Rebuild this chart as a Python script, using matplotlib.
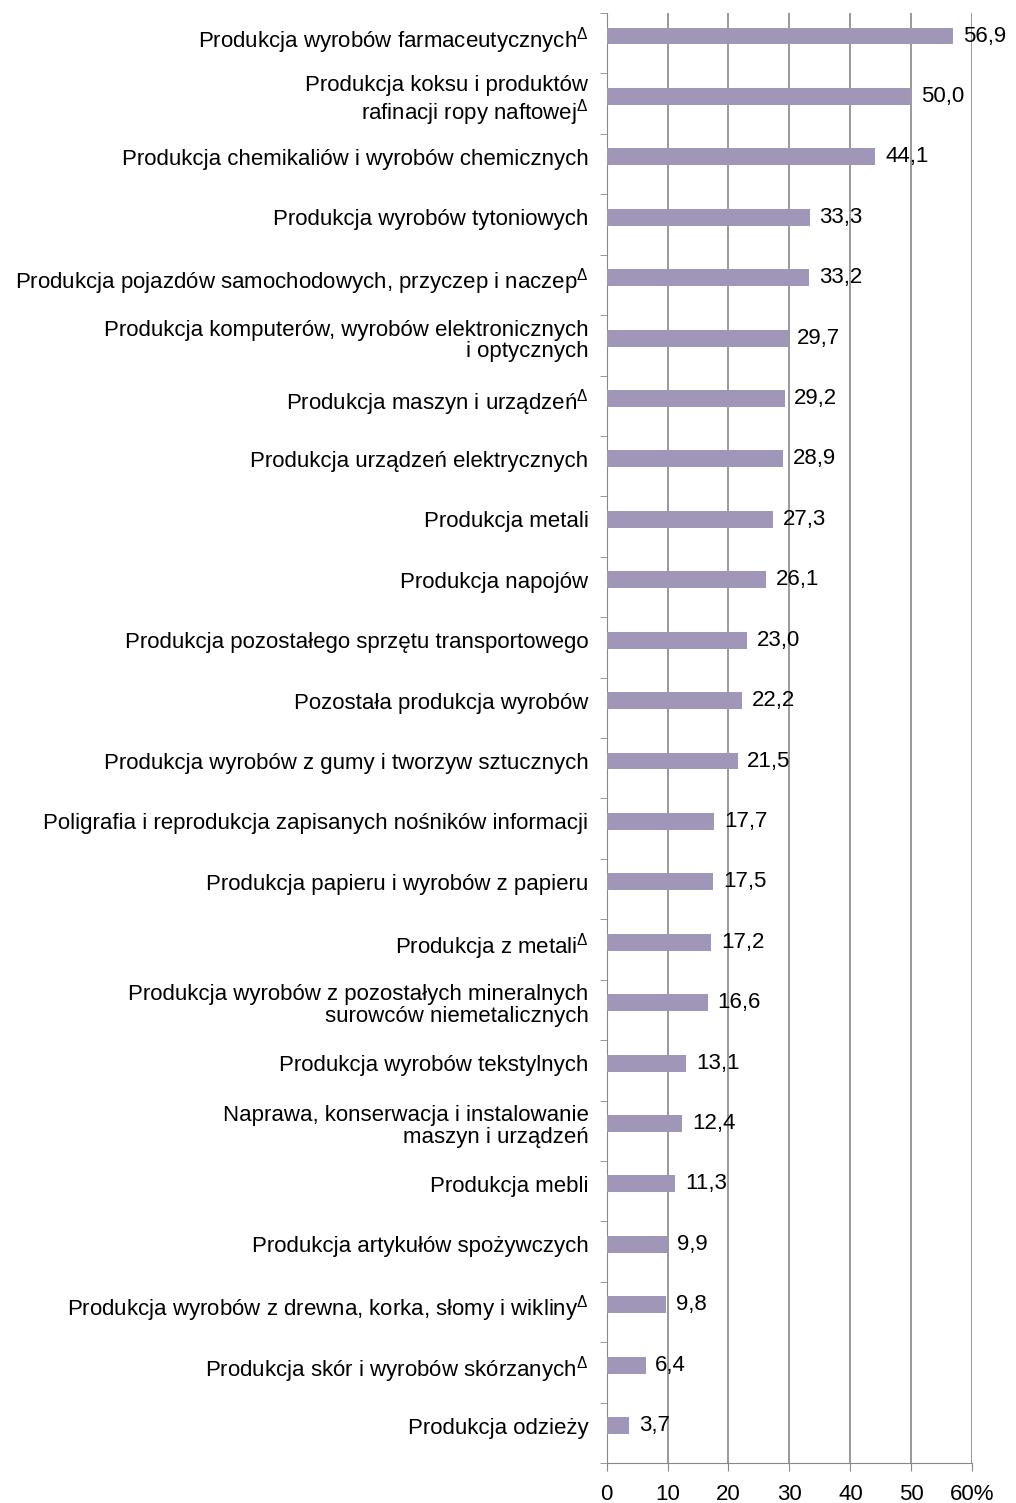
import numpy as np
import matplotlib.pyplot as plt
from matplotlib.ticker import FixedLocator

plt.rcParams['font.family'] = ['Liberation Sans', 'DejaVu Sans']
plt.rcParams['mathtext.default'] = 'regular'

# categories top to bottom
labels = [
    "Produkcja wyrobów farmaceutycznych$^{\\Delta}$",
    "Produkcja koksu i produktów\nrafinacji ropy naftowej$^{\\Delta}$",
    "Produkcja chemikaliów i wyrobów chemicznych",
    "Produkcja wyrobów tytoniowych",
    "Produkcja pojazdów samochodowych, przyczep i naczep$^{\\Delta}$",
    "Produkcja komputerów, wyrobów elektronicznych\ni optycznych",
    "Produkcja maszyn i urządzeń$^{\\Delta}$",
    "Produkcja urządzeń elektrycznych",
    "Produkcja metali",
    "Produkcja napojów",
    "Produkcja pozostałego sprzętu transportowego",
    "Pozostała produkcja wyrobów",
    "Produkcja wyrobów z gumy i tworzyw sztucznych",
    "Poligrafia i reprodukcja zapisanych nośników informacji",
    "Produkcja papieru i wyrobów z papieru",
    "Produkcja z metali$^{\\Delta}$",
    "Produkcja wyrobów z pozostałych mineralnych\nsurowców niemetalicznych",
    "Produkcja wyrobów tekstylnych",
    "Naprawa, konserwacja i instalowanie\nmaszyn i urządzeń",
    "Produkcja mebli",
    "Produkcja artykułów spożywczych",
    "Produkcja wyrobów z drewna, korka, słomy i wikliny$^{\\Delta}$",
    "Produkcja skór i wyrobów skórzanych$^{\\Delta}$",
    "Produkcja odzieży",
]
values = [56.9, 50.0, 44.1, 33.3, 33.2, 29.7, 29.2, 28.9, 27.3, 26.1, 23.0, 22.2,
          21.5, 17.7, 17.5, 17.2, 16.6, 13.1, 12.4, 11.3, 9.9, 9.8, 6.4, 3.7]
xticks = [0, 10, 20, 30, 40, 50, 60]
xticklabels = ["0", "10", "20", "30", "40", "50", "60%"]

fig = plt.figure(figsize=(10.16, 15.03), dpi=100)
ax = fig.add_axes([0.597, 0.0266, 0.36, 0.9647])

n = len(values)
y = np.arange(n) - 0.12  # bars sit a little above slot centre
ax.barh(y, values, height=0.28, color='#a096b8', zorder=3)
ax.set_ylim(n - 0.5, -0.5)
ax.set_xlim(0, 60)

ax.set_xticks(xticks)
ax.set_xticklabels(xticklabels, fontsize=16)
ax.set_yticks(y)
ax.set_yticklabels(labels, fontsize=16, linespacing=1.05)
ax.yaxis.set_minor_locator(FixedLocator(np.arange(-0.5, n, 1)))
ax.tick_params(axis='y', which='major', length=0, pad=13)
ax.tick_params(axis='y', which='minor', length=5, color='#888888', direction='out')
ax.tick_params(axis='x', length=6, color='#888888', pad=9)

ax.grid(axis='x', color='#888888', linewidth=1.2, zorder=0)
for s in ['top', 'right']:
    ax.spines[s].set_visible(False)
for s in ['left', 'bottom']:
    ax.spines[s].set_color('#888888')

for yi, v in zip(y, values):
    ax.text(v + 1.6, yi, f"{v:.1f}".replace('.', ','), va='center', ha='left',
            fontsize=16, zorder=4)

fig.savefig('out.png', dpi=100)
